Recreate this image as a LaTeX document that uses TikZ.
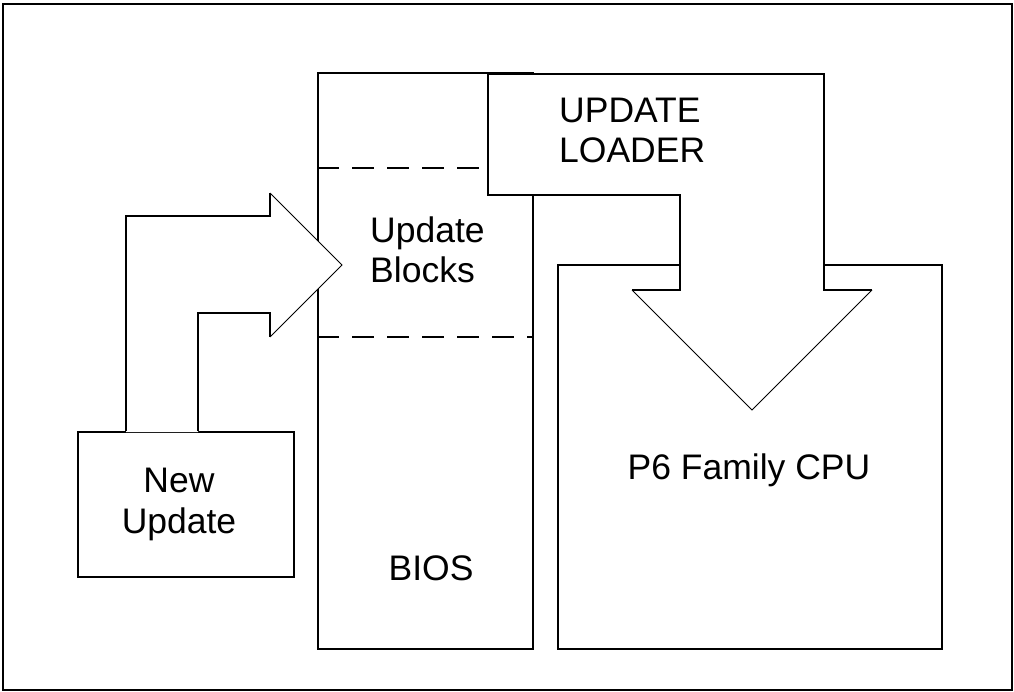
\documentclass[tikz,border=0pt]{standalone}
\usepackage{fontspec}
\setmainfont{Liberation Sans}
\usepackage{tikz}
\usetikzlibrary{positioning,calc}

\begin{document}
\begin{tikzpicture}[
    x=1pt, y=-1pt,
    blockBox/.style={rectangle, draw=black, line width=2pt, inner sep=0pt},
    labelText/.style={inner sep=0pt, align=left, font=\fontsize{35.5}{40}\selectfont},
    shaftLine/.style={draw=black, line width=2pt, line join=miter},
    headLine/.style={draw=black, line width=1pt, line join=miter},
    splitLine/.style={draw=black, line width=2pt, dash pattern=on 22pt off 13pt}
]
    \useasboundingbox (0,0) rectangle (1014,692);
    % Cornice esterna
    \draw[line width=2pt] (3,4) rectangle (1012,690);

    % Blocchi principali
    \node[blockBox, minimum width=215pt, minimum height=576pt] (bios) at (425.5,361) {};
    \node[blockBox, minimum width=384pt, minimum height=384pt] (cpu) at (750,457) {};
    \node[blockBox, minimum width=216pt, minimum height=145pt] (newUpdate) at (186,504.5) {};

    % Separazioni nel BIOS
    \draw[splitLine] (bios.west |- 0,168) -- (488,168);
    \draw[splitLine] (bios.west |- 0,337) -- (bios.east |- 0,337);

    % Freccia New Update -> Update Blocks
    \fill[white] (126,432) -- (126,216) -- (270,216) -- (270,193) -- (342,265) -- (270,337) -- (270,313) -- (198,313) -- (198,432) -- cycle;
    \draw[shaftLine] (newUpdate.north -| 126,0) -- (126,216) -- (270,216) -- (270,193);
    \draw[shaftLine] (newUpdate.north -| 198,0) -- (198,313) -- (270,313) -- (270,337);
    \draw[headLine] (270,193) -- (342,265) -- (270,337);

    % Freccia Update Loader -> CPU
    \fill[white] (488,74) -- (824,74) -- (824,290) -- (872,290) -- (752,410) -- (632,290) -- (680,290) -- (680,195) -- (488,195) -- cycle;
    \draw[shaftLine] (632,290) -- (680,290) -- (680,195) -- (488,195) -- (488,74) -- (824,74) -- (824,290) -- (872,290);
    \draw[headLine] (872,290) -- (752,410) -- (632,290);

    % Testi
    \node[labelText, anchor=north, align=center, font=\fontsize{35.5}{41}\selectfont] (newText) at (179,468) {New\\Update};
    \node[labelText, anchor=north west] (loaderText) at (559,97.5) {UPDATE\\LOADER};
    \node[labelText, anchor=north west] (blocksText) at (370,217) {Update\\Blocks};
    \node[labelText, anchor=base] (biosText) at (431,580) {BIOS};
    \node[labelText, anchor=base] (cpuText) at (749,479) {P6 Family CPU};
\end{tikzpicture}
\end{document}
